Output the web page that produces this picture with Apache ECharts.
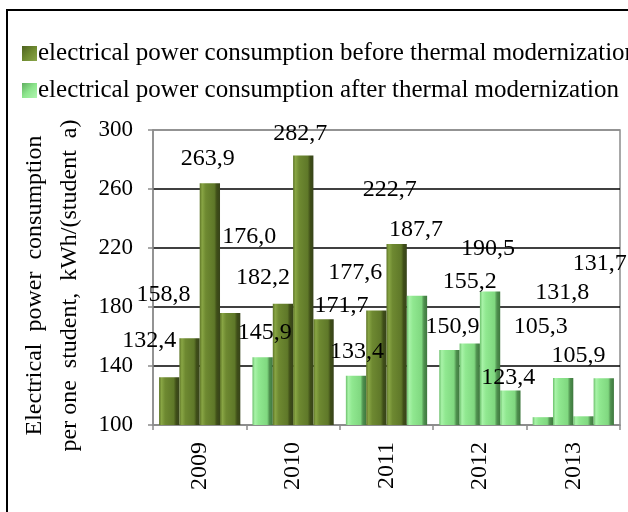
<!DOCTYPE html>
<html>
<head>
    <meta charset="UTF-8">
    <title>Electrical power consumption per student</title>
    <script src="https://cdn.jsdelivr.net/npm/echarts@6/dist/echarts.min.js"></script>
    <style>
        html, body { margin: 0; padding: 0; background: #fff; }
        #chart { width: 628px; height: 512px; }
    </style>
</head>
<body>
    <div id="chart"></div>
    <script>
        const years = ['2009', '2010', '2011', '2012', '2013'];
        // four measurements per year, in the order they are drawn
        const bar1 = [132.4, 145.9, 133.4, 150.9, 105.3];
        const bar2 = [158.8, 182.2, 177.6, 155.2, 131.8];
        const bar3 = [263.9, 282.7, 222.7, 190.5, 105.9];
        const bar4 = [176.0, 171.7, 187.7, 123.4, 131.7];
        // 'b' = before thermal modernization, 'a' = after
        const stage1 = ['b', 'a', 'a', 'a', 'a'];
        const stage2 = ['b', 'b', 'b', 'a', 'a'];
        const stage3 = ['b', 'b', 'b', 'a', 'a'];
        const stage4 = ['b', 'b', 'a', 'a', 'a'];
        const legendNames = {
            b: 'electrical power consumption before thermal modernization',
            a: 'electrical power consumption after thermal modernization'
        };

        // label nudges (px) relative to the top of each bar, like the original
        const nudge1 = [[-20, -37], [2, -25], [1, -24], [3, -23], [-2, -90]];
        const nudge2 = [[-26, -44], [-20, -26], [-21, -38], [0, -62], [-1, -85]];
        const nudge3 = [[-2, -25], [-3, -22], [-7, -54], [-2, -43], [-5, -61]];
        const nudge4 = [[19, -76], [18, -14], [-1, -66], [-2, -13], [-4, -115]];

        const serif = '"Liberation Serif", "DejaVu Serif", serif';

        function grad(stops) {
            return new echarts.graphic.LinearGradient(0, 0, 1, 0, stops.map((c, i) => ({
                offset: [0, 0.12, 0.3, 0.72, 0.84, 1][i], color: c
            })));
        }
        const fills = {
            b: grad(['#5d7426', '#88a544', '#6e8931', '#5f7829', '#3f4e18', '#37431a']),
            a: grad(['#6cc06c', '#a8f3a8', '#90e890', '#80d880', '#4f904f', '#3e783e'])
        };
        const swatch = {
            b: new echarts.graphic.LinearGradient(0, 0, 1, 1, [
                { offset: 0, color: '#4e6220' }, { offset: 0.5, color: '#6e8a30' }, { offset: 1, color: '#8aa64a' }
            ]),
            a: new echarts.graphic.LinearGradient(0, 0, 1, 1, [
                { offset: 0, color: '#5fae5f' }, { offset: 0.5, color: '#8ee68e' }, { offset: 1, color: '#b0f5b0' }
            ])
        };

        function makeBars(name, values, stages, nudges) {
            return {
                name: name,
                type: 'bar',
                barGap: '0%',
                barCategoryGap: '13%',
                data: values.map((v, i) => ({
                    value: v,
                    itemStyle: { color: fills[stages[i]] },
                    label: { offset: [nudges[i][0], nudges[i][1] + 12] }
                })),
                label: {
                    show: true,
                    position: 'top',
                    distance: 0,
                    fontFamily: serif,
                    fontSize: 24,
                    color: '#000',
                    formatter: p => p.value.toFixed(1).replace('.', ',')
                },
                z: 3
            };
        }

        const chart = echarts.init(document.getElementById('chart'));
        chart.setOption({
            backgroundColor: '#fff',
            animation: false,
            graphic: [{
                type: 'rect',
                shape: { x: 7, y: 10, width: 1000, height: 1000 },
                style: { fill: 'none', stroke: '#000', lineWidth: 2 },
                silent: true
            }],
            legend: {
                orient: 'vertical',
                left: 17,
                top: 36,
                itemGap: 12,
                itemWidth: 15,
                itemHeight: 15,
                icon: 'rect',
                selectedMode: false,
                textStyle: { fontFamily: serif, fontSize: 25, color: '#000', padding: [0, 0, 0, -4] },
                data: [legendNames.b, legendNames.a]
            },
            grid: {
                left: 153, right: 8, top: 130, bottom: 87,
                show: true, borderColor: '#8c8c8c', borderWidth: 1.5
            },
            xAxis: {
                type: 'category',
                data: years,
                axisLine: { lineStyle: { color: '#8c8c8c', width: 1.5 } },
                axisTick: { show: true, length: 5, lineStyle: { color: '#8c8c8c', width: 1.5 } },
                axisLabel: { rotate: 90, margin: 17, fontFamily: serif, fontSize: 24, color: '#000' }
            },
            yAxis: {
                type: 'value',
                min: 100,
                max: 300,
                interval: 40,
                name: 'Electrical  power  consumption\nper one  student,  kWh/(student  a)',
                nameLocation: 'middle',
                nameRotate: 90,
                nameGap: 66,
                nameTextStyle: {
                    fontFamily: serif, fontSize: 24, color: '#000', lineHeight: 35,
                    padding: [0, 16, 0, 0]
                },
                axisLine: { show: true, lineStyle: { color: '#8c8c8c', width: 1.5 } },
                axisTick: { show: true, length: 5, lineStyle: { color: '#8c8c8c', width: 1.5 } },
                axisLabel: { margin: 20, fontFamily: serif, fontSize: 23, color: '#000' },
                splitLine: { lineStyle: { color: ['#8c8c8c', '#000', '#000', '#000', '#000', '#8c8c8c'], width: 1.5 } }
            },
            series: [
                makeBars('bar1', bar1, stage1, nudge1),
                makeBars('bar2', bar2, stage2, nudge2),
                makeBars('bar3', bar3, stage3, nudge3),
                makeBars('bar4', bar4, stage4, nudge4),
                // legend-only entries
                { name: legendNames.b, type: 'line', data: [], itemStyle: { color: swatch.b } },
                { name: legendNames.a, type: 'line', data: [], itemStyle: { color: swatch.a } }
            ]
        });
    </script>
</body>
</html>
